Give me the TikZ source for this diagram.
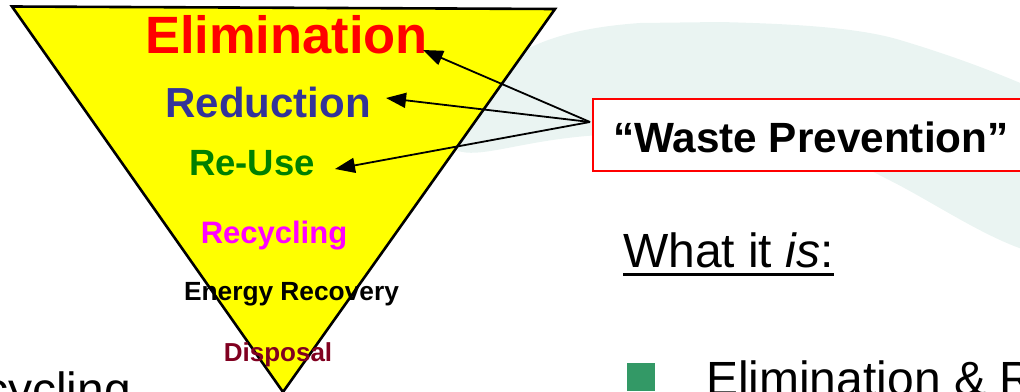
\documentclass[tikz,border=0pt]{standalone}
\usepackage{fontspec}
\setmainfont{Liberation Sans}
\usetikzlibrary{arrows.meta}
\definecolor{blobcol}{HTML}{EAF4F2}
\definecolor{tri}{HTML}{FFFF00}
\definecolor{elimcol}{HTML}{FF0000}
\definecolor{redcol}{HTML}{333399}
\definecolor{reusecol}{HTML}{008000}
\definecolor{recyccol}{HTML}{FF00FF}
\definecolor{dispcol}{HTML}{800020}
\definecolor{bulletcol}{HTML}{339966}
\definecolor{boxred}{HTML}{FF0000}
\tikzset{
  lbl/.style={inner sep=0pt, outer sep=0pt, anchor=base},
  fsb/.style={font=\fontsize{#1}{#1}\selectfont\bfseries},
  fsr/.style={font=\fontsize{#1}{#1}\selectfont},
  arr/.style={line width=1.8pt, -{Triangle[length=20pt,width=15pt]}},
}
\begin{document}
\begin{tikzpicture}[x=1pt,y=-1pt]
\useasboundingbox (0,0) rectangle (1020,391);
\clip (0,0) rectangle (1020,391);
% background brush blob
\fill[blobcol] (455,150) .. controls (470,60) and (540,30) .. (640,23) -- (720,22)
  .. controls (800,24) and (860,28) .. (900,40) .. controls (950,55) and (990,70) .. (1025,85)
  -- (1025,250) .. controls (980,235) and (930,200) .. (885,178) -- (860,165) -- (600,135)
  .. controls (520,140) and (480,160) .. (455,150) -- cycle;
% inverted triangle
\draw[fill=tri, line width=2.6pt, line join=miter] (12,6.5) -- (555,9) -- (283,392) -- cycle;
% labels
\node[lbl, fsb=52.5, text=elimcol] (elim) at (286.5,53) {Elimination};
\node[lbl, fsb=42, text=redcol] (red) at (268,117) {Reduction};
\node[lbl, fsb=36.5, text=reusecol] (reuse) at (252,175) {Re-Use};
\node[lbl, fsb=31, text=recyccol] (recyc) at (274,243) {Recycling};
\node[lbl, fsb=26.3, text=black] (energy) at (291.5,300) {Energy Recovery};
\node[lbl, fsb=26, text=dispcol] (disp) at (278,361) {Disposal};
% waste prevention box
\node[draw=boxred, line width=1.6pt, fill=white, anchor=north west, minimum width=460pt,
      minimum height=72pt, inner sep=0pt] (box) at (592,98) {};
\node[lbl, anchor=base west, fsb=42.3] (wp) at (613,152) {“Waste Prevention”};
% arrows
\coordinate (src) at (590,122);
\coordinate (tipE) at (423,50);
\coordinate (tipR) at (386,98);
\coordinate (tipU) at (335,169);
\draw[arr] (src) -- (tipE);
\draw[arr] (src) -- (tipR);
\draw[arr] (src) -- (tipU);
% What it is
\node[lbl, anchor=base west, fsr=48] (what) at (623,267) {What it \textit{is}:};
\draw[line width=3pt] (623,274) -- (834,274);
% bullet
\node[fill=bulletcol, anchor=north west, minimum size=28pt, inner sep=0pt] (bul) at (627,363) {};
\node[lbl, anchor=base west, fsr=48] (btext) at (706,395.5) {Elimination \& Reduction};
% partially visible left text
\node[lbl, anchor=base east, fsr=48] (left) at (131,406) {Recycling};
\end{tikzpicture}
\end{document}
